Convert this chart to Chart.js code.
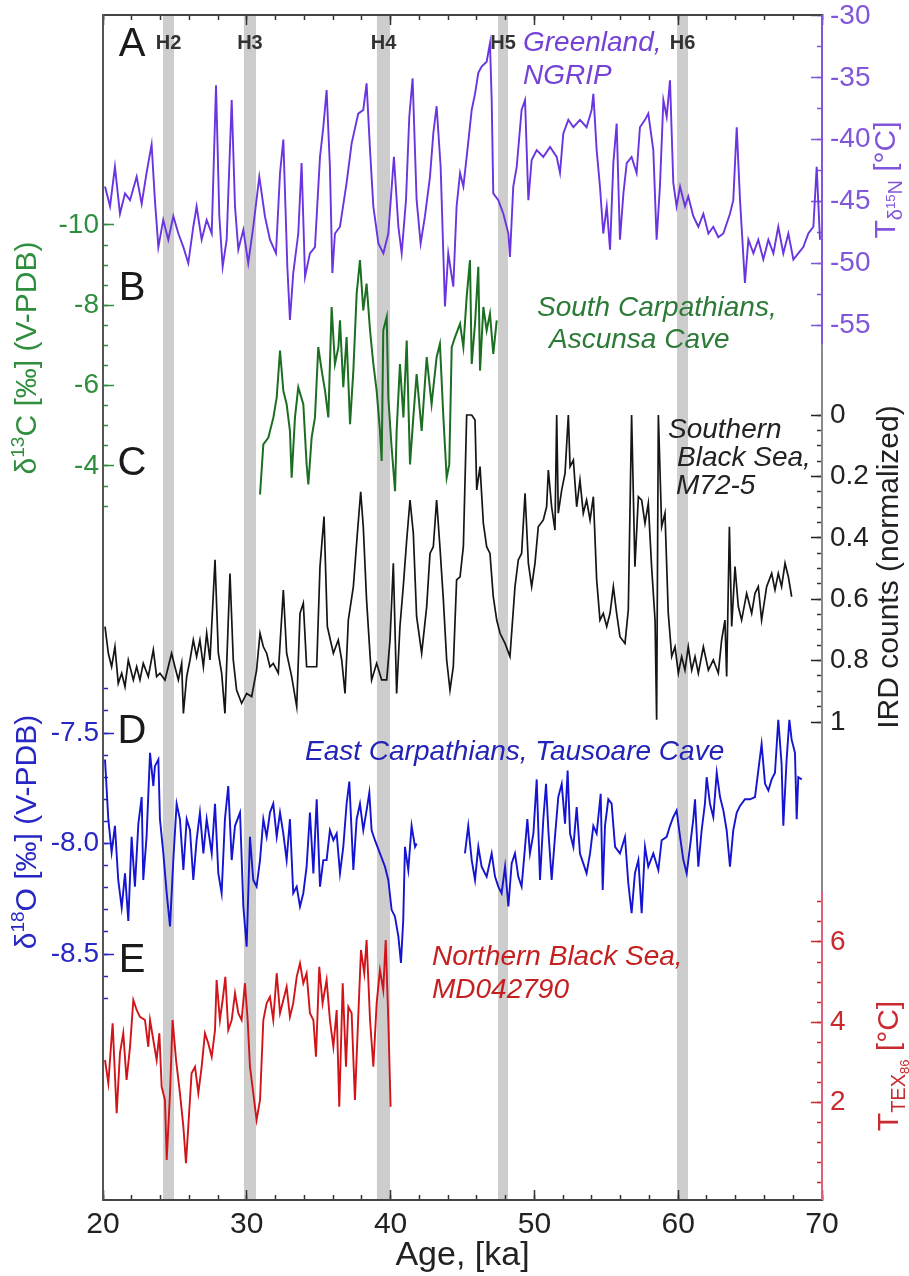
<!DOCTYPE html>
<html>
<head>
<meta charset="utf-8">
<script src="https://cdn.jsdelivr.net/npm/chart.js@4.4.1/dist/chart.umd.min.js"></script>
<style>
  html, body { margin: 0; padding: 0; background: #fff; }
</style>
</head>
<body>
<canvas id="chart" width="909" height="1276"></canvas>
<script>
// ---- data ----
const ageTicks = [20, 30, 40, 50, 60, 70];

const heinrichLabels = ['H2', 'H3', 'H4', 'H5', 'H6'];
const heinrichStart = [24.17, 29.8, 39.05, 47.47, 59.92];
const heinrichEnd = [24.94, 30.64, 39.96, 48.16, 60.68];

// A: Greenland NGRIP temperature
const ngripAge = [20.14,20.49,20.83,21.18,21.53,21.88,22.34,22.69,23.03,23.38,
  23.61,23.85,24.19,24.54,24.89,25.24,25.59,25.93,26.28,26.51,
  26.86,27.21,27.56,27.86,28.09,28.32,28.6,28.95,29.18,29.41,
  29.76,30.1,30.45,30.87,31.26,31.61,32.03,32.31,32.54,32.82,
  33.0,33.23,33.58,33.81,34.05,34.39,34.74,35.09,35.32,35.55,
  35.78,35.95,36.13,36.48,36.94,37.29,37.75,38.1,38.33,38.57,
  38.8,39.15,39.5,39.84,40.23,40.54,40.77,41.07,41.3,41.53,
  41.81,42.09,42.39,42.74,42.97,43.2,43.48,43.78,44.01,44.36,
  44.59,44.83,45.06,45.29,45.64,45.87,46.1,46.33,46.68,46.91,
  47.03,47.14,47.49,47.84,48.19,48.3,48.53,48.77,49.11,49.35,
  49.58,49.81,50.16,50.62,51.09,51.55,51.78,52.01,52.36,52.71,
  53.17,53.63,53.98,54.1,54.33,54.56,54.79,55.03,55.26,55.49,
  55.72,55.95,56.19,56.42,56.76,57.11,57.34,57.69,57.92,58.27,
  58.5,58.73,58.97,59.2,59.43,59.66,59.89,60.13,60.47,60.7,
  61.05,61.4,61.75,62.1,62.44,62.79,63.14,63.6,63.83,64.07,
  64.3,64.64,64.88,65.23,65.57,65.92,66.27,66.62,66.96,67.31,
  67.66,68.01,68.35,68.7,69.05,69.4,69.63,69.86];
const ngripTemp = [-43.8,-45.4,-42.2,-46.0,-44.35,-44.9,-43.0,-45.2,-42.7,-40.4,
  -44.9,-48.7,-46.5,-48.1,-46.2,-47.6,-48.7,-50.0,-47.05,-45.4,
  -48.1,-46.5,-47.6,-35.6,-46.2,-50.3,-48.1,-36.8,-45.4,-48.9,
  -47.3,-50.0,-47.05,-43.0,-46.2,-48.1,-49.2,-42.7,-40.0,-50.3,
  -54.6,-50.8,-47.6,-41.9,-51.1,-49.2,-48.7,-41.4,-39.0,-36.0,
  -42.2,-50.8,-47.6,-47.05,-43.5,-40.3,-37.9,-37.6,-35.45,-40.85,
  -45.4,-48.4,-49.2,-47.6,-41.4,-47.05,-49.2,-44.9,-38.15,-35.05,
  -44.9,-48.4,-46.2,-43.0,-39.5,-37.3,-42.2,-53.5,-49.2,-51.9,
  -45.4,-42.7,-43.8,-41.4,-37.6,-36.3,-34.6,-34.1,-33.7,-32.2,
  -36.8,-44.35,-44.9,-46.0,-47.6,-49.5,-43.8,-42.2,-37.6,-36.8,
  -44.9,-41.65,-40.85,-41.4,-40.6,-41.4,-42.7,-39.5,-38.4,-39.0,
  -38.4,-39.0,-37.6,-36.3,-40.85,-43.8,-47.6,-45.4,-48.9,-41.9,
  -38.7,-48.1,-44.35,-41.9,-41.4,-42.7,-39.0,-38.4,-37.9,-40.85,
  -48.1,-43.8,-36.8,-38.15,-35.2,-43.5,-45.4,-43.8,-45.4,-44.6,
  -46.2,-47.05,-46.0,-47.6,-47.05,-47.9,-47.6,-46.0,-44.9,-39.0,
  -44.9,-51.6,-48.1,-49.2,-48.1,-49.7,-48.1,-49.2,-47.05,-49.2,
  -47.6,-49.7,-49.2,-48.7,-47.6,-47.05,-42.2,-48.1];

// B: Ascunsa Cave d13C
const ascunsaAge = [30.92,31.15,31.5,31.85,32.08,32.31,32.54,32.77,33.0,33.12,
  33.35,33.58,33.93,34.16,34.28,34.51,34.74,34.97,35.21,35.44,
  35.67,35.9,36.13,36.37,36.48,36.71,36.94,37.18,37.41,37.64,
  37.87,38.1,38.33,38.57,38.8,39.03,39.26,39.38,39.49,39.73,
  39.84,40.07,40.31,40.42,40.65,40.89,41.12,41.35,41.58,41.81,
  42.16,42.51,42.85,43.2,43.43,43.67,43.9,44.08,44.25,44.48,
  44.83,45.06,45.29,45.52,45.64,45.87,46.1,46.22,46.45,46.68,
  46.91,47.14,47.38];
const ascunsaD13C = [-3.29,-4.54,-4.71,-5.21,-5.71,-6.875,-5.875,-5.54,-4.875,-3.71,
  -5.21,-5.96,-5.54,-4.04,-3.54,-4.71,-5.21,-6.96,-6.375,-5.875,
  -5.21,-7.96,-6.54,-6.96,-7.625,-5.96,-7.21,-5.04,-6.375,-8.29,
  -9.125,-7.875,-8.54,-7.375,-6.54,-5.875,-4.875,-4.125,-7.375,-7.71,
  -5.71,-4.46,-3.375,-4.875,-6.54,-5.21,-7.125,-4.04,-5.21,-6.29,
  -4.875,-6.71,-5.54,-6.71,-7.04,-5.21,-3.71,-4.04,-6.96,-7.21,
  -7.54,-6.96,-8.21,-9.125,-6.54,-7.54,-8.96,-6.375,-7.96,-7.375,
  -7.79,-6.79,-7.625];

// C: M72-5 IRD counts (normalized)
const irdAge = [20.14,20.37,20.6,20.83,21.06,21.3,21.53,21.76,22.11,22.34,
  22.57,22.8,23.15,23.5,23.73,23.96,24.31,24.54,24.77,25.0,
  25.24,25.47,25.59,25.82,26.05,26.28,26.51,26.74,26.98,27.21,
  27.44,27.79,28.02,28.25,28.48,28.83,29.06,29.29,29.64,29.99,
  30.34,30.68,30.92,31.15,31.38,31.61,31.84,32.19,32.54,32.77,
  33.12,33.47,33.7,33.93,34.16,34.51,34.86,35.09,35.37,35.6,
  36.02,36.36,36.6,36.83,37.06,37.41,37.69,37.92,38.1,38.33,
  38.68,39.03,39.38,39.73,39.96,40.19,40.42,40.65,40.88,41.12,
  41.35,41.58,41.81,42.16,42.51,42.74,42.97,43.2,43.43,43.67,
  43.9,44.13,44.36,44.59,44.83,45.06,45.29,45.64,45.87,45.99,
  46.22,46.45,46.68,46.91,47.14,47.38,47.61,47.96,48.3,48.65,
  48.88,49.11,49.35,49.58,49.81,50.04,50.27,50.62,50.85,50.97,
  51.2,51.43,51.55,51.66,51.9,52.13,52.36,52.48,52.71,52.94,
  53.17,53.4,53.63,53.87,54.1,54.33,54.56,54.79,55.03,55.26,
  55.49,55.72,55.95,56.3,56.53,56.76,56.99,57.23,57.46,57.69,
  57.92,58.15,58.39,58.5,58.62,58.85,59.08,59.31,59.55,59.78,
  60.01,60.24,60.47,60.7,60.94,61.17,61.4,61.75,62.1,62.44,
  62.79,63.02,63.25,63.37,63.56,63.72,63.95,64.18,64.41,64.76,
  65.11,65.34,65.57,65.8,66.15,66.5,66.73,66.96,67.19,67.43,
  67.66,67.89];
const irdCounts = [0.689,0.776,0.82,0.755,0.874,0.841,0.885,0.798,0.863,0.82,
  0.863,0.809,0.852,0.765,0.852,0.841,0.863,0.82,0.776,0.82,
  0.863,0.809,0.972,0.852,0.798,0.733,0.787,0.733,0.82,0.711,
  0.798,0.472,0.776,0.841,0.972,0.516,0.798,0.896,0.939,0.907,
  0.917,0.831,0.711,0.755,0.776,0.82,0.809,0.841,0.57,0.776,
  0.852,0.95,0.646,0.613,0.82,0.82,0.82,0.494,0.331,0.689,
  0.776,0.733,0.798,0.907,0.668,0.559,0.385,0.25,0.364,0.603,
  0.863,0.809,0.863,0.863,0.733,0.483,0.907,0.689,0.559,0.407,
  0.277,0.385,0.657,0.776,0.624,0.451,0.429,0.277,0.429,0.603,
  0.798,0.896,0.82,0.537,0.527,0.429,0,0,0.016,0.244,
  0.168,0.353,0.429,0.451,0.592,0.668,0.711,0.744,0.787,0.559,
  0.472,0.451,0.255,0.483,0.559,0.483,0.364,0.342,0.299,0.179,
  0.299,0.375,0,0.32,0.244,0.19,0,0.168,0.147,0.299,
  0.212,0.32,0.277,0.342,0.266,0.537,0.668,0.646,0.689,0.646,
  0.559,0.646,0.722,0.744,0.635,0,0.494,0.266,0.277,0.353,
  0.288,0.494,0.668,0.993,0,0.364,0.32,0.646,0.787,0.755,
  0.841,0.787,0.831,0.755,0.831,0.787,0.841,0.755,0.831,0.798,
  0.841,0.733,0.668,0.852,0.364,0.689,0.494,0.624,0.668,0.581,
  0.646,0.581,0.559,0.668,0.559,0.516,0.57,0.516,0.559,0.483,
  0.527,0.592];

// D: Tausoare Cave d18O (null = hiatus)
const tausoareAge = [20.14,20.37,20.6,20.83,21.06,21.3,21.53,21.76,21.99,22.22,
  22.46,22.69,22.8,23.03,23.27,23.5,23.61,23.85,23.96,24.19,
  24.43,24.66,24.89,25.12,25.35,25.59,25.82,26.05,26.28,26.51,
  26.74,26.98,27.21,27.56,27.79,28.02,28.25,28.48,28.71,28.95,
  29.18,29.53,29.76,29.99,30.22,30.45,30.68,30.92,31.15,31.38,
  31.61,31.84,32.08,32.31,32.54,32.77,33.0,33.23,33.47,33.7,
  33.93,34.16,34.39,34.63,34.86,35.09,35.32,35.55,35.78,36.02,
  36.25,36.48,36.71,36.94,37.13,37.41,37.64,37.87,38.1,38.33,
  38.52,38.68,38.91,39.26,39.61,39.84,40.07,40.3,40.54,40.72,
  40.88,41.0,41.23,41.46,41.7,41.81,43.5,
  45.17,45.4,45.64,45.87,46.1,46.33,46.68,47.03,47.26,47.49,
  47.72,47.96,48.19,48.42,48.65,48.88,49.11,49.35,49.51,49.69,
  49.93,50.16,50.39,50.62,50.81,50.97,51.2,51.43,51.66,51.9,
  52.13,52.31,52.48,52.71,52.94,53.17,53.4,53.63,53.87,54.1,
  54.33,54.61,54.75,54.91,55.14,55.37,55.61,55.95,56.3,56.53,
  56.76,56.99,57.23,57.46,57.69,57.92,58.27,58.62,58.85,59.2,
  59.43,59.66,59.89,60.13,60.36,60.59,60.82,61.05,61.17,61.4,
  61.63,61.86,61.98,62.21,62.44,62.68,62.91,63.14,63.37,63.6,
  63.83,64.07,64.3,64.64,64.99,65.34,65.57,65.8,66.04,66.27,
  66.5,66.73,66.96,67.19,67.31,67.54,67.73,67.89,68.12,68.24,
  68.35,68.59];
const tausoareD18O = [-7.62,-7.89,-8.04,-7.92,-8.165,-8.29,-8.135,-8.35,-7.97,-8.195,
  -7.91,-7.79,-8.165,-7.97,-7.59,-7.74,-7.65,-7.62,-7.89,-8.04,
  -8.225,-8.375,-8.075,-7.82,-7.89,-8.12,-7.89,-7.94,-8.165,-7.985,
  -7.86,-8.045,-7.89,-8.045,-7.82,-8.135,-8.225,-7.89,-7.74,-8.075,
  -7.92,-7.86,-8.285,-8.467,-7.97,-8.165,-8.195,-8.075,-7.89,-7.97,
  -7.86,-7.82,-7.97,-7.86,-7.955,-8.075,-7.89,-8.225,-8.195,-8.285,
  -8.225,-8.105,-7.86,-8.135,-7.8,-8.195,-8.075,-8.075,-7.94,-7.985,
  -7.955,-8.135,-8.015,-7.82,-7.72,-8.12,-7.89,-7.82,-7.94,-7.85,
  -7.77,-7.94,-7.985,-8.045,-8.105,-8.165,-8.3,-8.33,-8.42,-8.54,
  -8.345,-8.015,-8.12,-7.92,-8.015,-8.0,null,
  -8.045,-7.92,-8.075,-8.165,-8.015,-8.105,-8.15,-8.045,-8.15,-8.195,
  -8.225,-8.105,-8.285,-8.09,-8.045,-8.15,-8.195,-8.015,-7.89,-8.045,
  -7.955,-7.71,-8.165,-7.89,-7.73,-7.94,-8.165,-7.97,-7.79,-7.73,
  -7.91,-7.67,-7.955,-8.015,-7.835,-8.045,-8.09,-8.135,-8.045,-7.92,
  -7.955,-7.775,-8.21,-7.92,-7.8,-7.82,-8.015,-8.045,-7.97,-8.18,
  -8.315,-8.135,-8.075,-8.315,-8.015,-8.105,-8.045,-8.12,-7.985,-7.97,
  -7.92,-7.88,-7.85,-7.97,-8.075,-8.135,-8.015,-7.89,-7.8,-8.105,
  -7.94,-7.82,-7.7,-7.82,-7.88,-7.68,-7.79,-7.85,-7.94,-8.105,
  -7.94,-7.86,-7.83,-7.8,-7.8,-7.79,-7.67,-7.55,-7.73,-7.76,
  -7.71,-7.68,-7.44,-7.64,-7.92,-7.62,-7.44,-7.53,-7.59,-7.89,
  -7.7,-7.71];

// E: MD042790 TEX86 temperature
const tex86Age = [20.14,20.37,20.67,20.95,21.18,21.41,21.64,21.88,22.11,22.34,
  22.57,22.92,23.15,23.27,23.5,23.73,23.92,24.08,24.31,24.43,
  24.66,24.84,25.08,25.35,25.59,25.77,25.93,26.16,26.4,26.63,
  26.86,27.09,27.32,27.56,27.79,27.9,28.13,28.32,28.51,28.71,
  28.95,29.18,29.41,29.64,29.87,30.06,30.22,30.45,30.68,30.92,
  31.15,31.38,31.61,31.84,32.08,32.31,32.54,32.77,33.0,33.23,
  33.47,33.7,33.93,34.16,34.39,34.63,34.81,35.04,35.27,35.55,
  35.78,36.02,36.25,36.43,36.67,36.9,37.06,37.29,37.52,37.75,
  37.94,38.17,38.33,38.57,38.8,39.03,39.26,39.49,39.66,39.84,
  40.0];
const tex86Temp = [3.05,2.47,3.97,1.72,3.22,3.72,2.55,3.38,4.55,4.3,
  4.13,4.05,3.38,4.05,3.55,3.05,3.72,2.38,2.05,0.55,
  2.22,4.05,3.05,2.22,1.38,0.47,1.38,2.72,2.88,2.22,
  2.88,3.72,3.47,3.13,3.8,5.05,4.05,4.55,5.13,3.8,
  4.05,4.72,4.22,4.05,4.97,4.05,2.88,2.22,1.55,2.05,
  4.05,4.47,4.63,4.05,5.22,4.22,4.55,4.88,4.13,4.47,
  5.13,5.47,4.97,5.22,4.22,4.05,3.13,5.38,4.47,5.05,
  4.05,3.38,4.3,1.88,4.97,2.88,4.38,4.22,2.05,4.13,
  5.8,5.22,6.05,4.05,2.88,4.47,5.3,4.8,6.05,4.05,
  1.88];

// tick labels
const ngripTicks = [-30, -35, -40, -45, -50, -55];
const d13cTicks = [-10, -8, -6, -4];
const irdTicks = [0, 0.2, 0.4, 0.6, 0.8, 1];
const d18oTicks = [-7.5, -8.0, -8.5];
const tex86Ticks = [2, 4, 6];

// ---- layout ----
const TOP = 15, BOTTOM = 1200, LEFT = 103, RIGHT = 822;
const FONT = '"Liberation Sans", Arial, Helvetica, sans-serif';
Chart.defaults.font.family = FONT;

const C = {
  purple: '#6a34e0', purpleAxis: '#8156dc',
  green: '#1c6e22', greenAxis: '#2f8e3e',
  black: '#151515',
  blue: '#1414d2', blueAxis: '#2727c4',
  red: '#d01419', redAxis: '#c82a30', redLine: '#e0607a',
  band: '#cdcdcd', axis: '#555'
};

// pixel anchors of two tick values -> axis limits over the whole plot height
function fitAxis(v1, p1, v2, p2) {
  const k = (p2 - p1) / (v2 - v1);
  const vTop = v1 + (TOP - p1) / k;
  const vBot = v1 + (BOTTOM - p1) / k;
  return k > 0 ? { min: vTop, max: vBot, reverse: true } : { min: vBot, max: vTop, reverse: false };
}
function steps(a, b, s) {
  const out = [];
  const n = Math.round((b - a) / s);
  for (let i = 0; i <= n; i++) out.push(+(a + i * s).toFixed(4));
  return out;
}
const pairs = (xs, ys) => xs.map((x, i) => ({ x: x, y: ys[i] }));

const fitNgrip = fitAxis(-30, 16, -55, 325);
const fitD13c = fitAxis(-10, 225, -4, 466);
const fitIrd = fitAxis(0, 415, 1, 722);
const fitD18o = fitAxis(-7.5, 733, -8.5, 954);
const fitTex = fitAxis(6, 942, 2, 1102);

function yAxis(position, fit, ticks, o) {
  return {
    type: 'linear', position: position,
    min: fit.min, max: fit.max, reverse: fit.reverse,
    afterFit: s => { s.width = 0; s.paddingTop = 0; s.paddingBottom = 0; },
    afterBuildTicks: s => { s.ticks = ticks.map(v => ({ value: v })); },
    grid: { drawOnChartArea: false, tickLength: -o.len, tickColor: o.color, tickWidth: 1.5 },
    border: { display: !!o.border, color: C.axis, width: 2 },
    ticks: {
      display: !!o.label, color: o.color, autoSkip: false,
      font: { size: 28 },
      padding: position === 'left' ? o.len + 4 : o.len + 8,
      callback: o.label || (() => '')
    }
  };
}
function xAxis(position, ticks, len, weight, extra) {
  return Object.assign({
    type: 'linear', position: position, min: 20, max: 70, weight: weight,
    afterFit: s => { s.height = 0; },
    afterBuildTicks: s => { s.ticks = ticks.map(v => ({ value: v })); },
    grid: { drawOnChartArea: false, tickLength: -len, tickColor: '#333', tickWidth: 1.5 },
    border: { display: false },
    ticks: { display: false }
  }, extra || {});
}

const scales = {
  x: xAxis('bottom', ageTicks, 10, 1, {
    afterFit: s => { s.height = 1276 - BOTTOM; },
    border: { display: true, color: '#444', width: 2 },
    ticks: { display: true, color: '#222', font: { size: 30 }, padding: 17, maxRotation: 0, autoSkip: false },
    title: { display: true, text: 'Age, [ka]', color: '#222', font: { size: 34 }, padding: { top: 0, bottom: 0 } }
  }),
  xMinor: xAxis('bottom', steps(20, 70, 2), 5, 0),
  xTop: xAxis('top', ageTicks, 10, 1, { border: { display: true, color: '#444', width: 2 } }),
  xTopMinor: xAxis('top', steps(20, 70, 2), 5, 0),

  yD13c: yAxis('left', fitD13c, d13cTicks, { len: 11, color: C.greenAxis, border: true, label: v => String(v) }),
  yD13cMinor: yAxis('left', fitD13c, steps(-10, -3, 0.5), { len: 5, color: C.greenAxis }),
  yD18o: yAxis('left', fitD18o, d18oTicks, { len: 11, color: C.blueAxis, label: v => v.toFixed(1) }),
  yD18oMinor: yAxis('left', fitD18o, steps(-8.7, -7.3, 0.1), { len: 5, color: C.blueAxis }),

  yNgrip: yAxis('right', fitNgrip, ngripTicks, { len: 11, color: C.purpleAxis, label: v => String(v) }),
  yNgripMinor: yAxis('right', fitNgrip, steps(-55, -30, 2.5), { len: 5, color: C.purpleAxis }),
  yIrd: yAxis('right', fitIrd, irdTicks, { len: 11, color: '#222', label: v => String(v) }),
  yIrdMinor: yAxis('right', fitIrd, steps(0, 1, 0.05), { len: 5, color: '#333' }),
  yTex: yAxis('right', fitTex, tex86Ticks, { len: 11, color: C.redAxis, label: v => String(v) }),
  yTexMinor: yAxis('right', fitTex, steps(0, 7, 0.5), { len: 5, color: C.redAxis })
};

function textRuns(ctx, parts, cx, cy, rot, color) {
  ctx.save();
  ctx.translate(cx, cy);
  ctx.rotate(rot);
  ctx.fillStyle = color;
  ctx.textBaseline = 'alphabetic';
  ctx.textAlign = 'left';
  let w = 0;
  parts.forEach(p => { ctx.font = p[1] + 'px ' + FONT; w += ctx.measureText(p[0]).width; });
  let xx = -w / 2;
  parts.forEach(p => {
    ctx.font = p[1] + 'px ' + FONT;
    ctx.fillText(p[0], xx, 10 + (p[2] || 0));
    xx += ctx.measureText(p[0]).width;
  });
  ctx.restore();
}

const decor = {
  id: 'decor',
  // y axes were squeezed to zero width so they all sit on the plot edges;
  // widen their boxes again so the tick labels are not clipped away
  afterLayout(chart) {
    Object.values(chart.scales).forEach(s => {
      if (s.options.position === 'left') { s.left = 0; s.width = s.right; }
      if (s.options.position === 'right') { s.right = chart.width; s.width = s.right - s.left; }
    });
  },
  beforeDraw(chart) {
    const { ctx, chartArea: a, scales: s } = chart;
    ctx.save();
    ctx.fillStyle = '#fff';
    ctx.fillRect(0, 0, chart.width, chart.height);
    ctx.fillStyle = C.band;
    heinrichStart.forEach((h, i) => {
      const x0 = s.x.getPixelForValue(h), x1 = s.x.getPixelForValue(heinrichEnd[i]);
      ctx.fillRect(x0, a.top, x1 - x0, a.bottom - a.top);
    });
    ctx.restore();
  },
  afterDraw(chart) {
    const { ctx, chartArea: a, scales: s } = chart;
    ctx.save();
    // right axis line, coloured per panel
    const yP = s.yNgrip.getPixelForValue(-56.6);
    const yR = s.yTex.getPixelForValue(7.25);
    ctx.lineWidth = 2;
    [[a.top, yP, C.purpleAxis], [yP, yR, '#8a8a8a'], [yR, a.bottom, C.redLine]].forEach(seg => {
      ctx.strokeStyle = seg[2];
      ctx.beginPath(); ctx.moveTo(a.right, seg[0]); ctx.lineTo(a.right, seg[1]); ctx.stroke();
    });

    // Heinrich labels
    ctx.fillStyle = '#333';
    ctx.font = 'bold 20px ' + FONT;
    ctx.textAlign = 'center';
    ctx.textBaseline = 'middle';
    heinrichLabels.forEach((t, i) => {
      ctx.fillText(t, s.x.getPixelForValue((heinrichStart[i] + heinrichEnd[i]) / 2), a.top + 28);
    });

    // panel letters
    ctx.fillStyle = '#1a1a1a';
    ctx.font = '40px ' + FONT;
    [['A', 45], ['B', 289], ['C', 464], ['D', 732], ['E', 961]].forEach(l => {
      ctx.fillText(l[0], a.left + 29, l[1]);
    });

    // record names
    ctx.textAlign = 'left';
    ctx.font = 'italic 28px ' + FONT;
    const names = [
      ['Greenland,', 523, 43, '#7442d6'], ['NGRIP', 523, 76, '#7442d6'],
      ['South Carpathians,', 537, 308, '#2b7a36'], ['Ascunsa Cave', 549, 340, '#2b7a36'],
      ['Southern', 668, 430, '#222'], ['Black Sea,', 677, 458, '#222'], ['M72-5', 676, 486, '#222'],
      ['East Carpathians, Tausoare Cave', 305, 752, '#2323b8'],
      ['Northern Black Sea,', 432, 957, '#c42020'], ['MD042790', 432, 990, '#c42020']
    ];
    names.forEach(n => { ctx.fillStyle = n[3]; ctx.fillText(n[0], n[1], n[2]); });
    ctx.restore();

    // axis titles
    const up = -Math.PI / 2;
    textRuns(ctx, [['δ', 30], ['13', 19, -12], ['C [‰] (V-PDB)', 30]], 26, 358, up, C.greenAxis);
    textRuns(ctx, [['δ', 30], ['18', 19, -12], ['O [‰] (V-PDB)', 30]], 26, 832, up, C.blueAxis);
    textRuns(ctx, [['T', 30], ['δ', 20, 7], ['15', 13, 0], ['N', 20, 7], [' [°C]', 30]], 885, 180, up, C.purpleAxis);
    textRuns(ctx, [['IRD counts (normalized)', 30]], 888, 567, up, '#222');
    textRuns(ctx, [['T', 30], ['TEX', 20, 7], ['86', 13, 11], [' [°C]', 30]], 888, 1066, up, C.redAxis);
  }
};

function line(data, axis, color, width) {
  return {
    data: data, xAxisID: 'x', yAxisID: axis,
    borderColor: color, borderWidth: width, pointRadius: 0,
    tension: 0, fill: false, spanGaps: false
  };
}

new Chart(document.getElementById('chart'), {
  type: 'line',
  data: {
    datasets: [
      line(pairs(ngripAge, ngripTemp), 'yNgrip', C.purple, 1.9),
      line(pairs(ascunsaAge, ascunsaD13C), 'yD13c', C.green, 2),
      line(pairs(irdAge, irdCounts), 'yIrd', C.black, 1.7),
      line(pairs(tausoareAge, tausoareD18O), 'yD18o', C.blue, 1.9),
      line(pairs(tex86Age, tex86Temp), 'yTex', C.red, 1.9)
    ]
  },
  options: {
    responsive: false,
    animation: false,
    layout: { padding: { left: LEFT, right: 909 - RIGHT, top: TOP, bottom: 0 } },
    plugins: { legend: { display: false }, tooltip: { enabled: false } },
    scales: scales
  },
  plugins: [decor]
});
</script>
</body>
</html>
